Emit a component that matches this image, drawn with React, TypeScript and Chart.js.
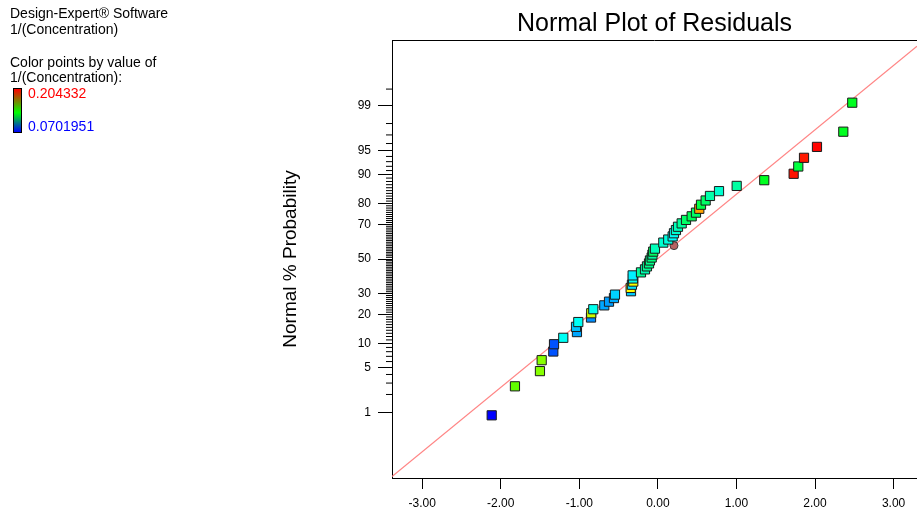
import React, { useEffect, useRef } from "react";
import { Chart, registerables } from "chart.js";

Chart.register(...registerables);

// ---------- data ----------
// Residuals of the square points, in rank order (bottom to top)
const residuals = [
  -2.115, -1.819, -1.501, -1.479, -1.331, -1.322, -1.204, -1.03, -1.042, -1.013,
  -0.851, -0.848, -0.822, -0.682, -0.622, -0.559, -0.546, -0.342, -0.346, -0.33,
  -0.313, -0.317, -0.321, -0.215, -0.164, -0.139, -0.113, -0.101, -0.079, -0.069,
  -0.059, -0.037, 0.069, 0.132, 0.188, 0.205, 0.23, 0.256, 0.303, 0.358,
  0.43, 0.485, 0.527, 0.549, 0.608, 0.663, 0.778, 1.003, 1.354, 1.728,
  1.787, 1.86, 2.025, 2.36, 2.474,
];
// Normal % probability of each square point
const probabilities = [
  0.89, 2.68, 4.46, 6.25, 8.04, 9.82, 11.61, 13.39, 15.18, 16.96,
  18.75, 20.54, 22.32, 24.11, 25.89, 27.68, 29.46, 31.25, 33.04, 34.82,
  36.61, 38.39, 40.18, 41.96, 43.75, 45.54, 47.32, 49.11, 50.89, 52.68,
  54.46, 56.25, 59.82, 61.61, 63.39, 65.18, 66.96, 68.75, 70.54, 72.32,
  74.11, 75.89, 77.68, 79.46, 81.25, 83.04, 84.82, 86.61, 88.39, 90.18,
  91.96, 93.75, 95.54, 97.32, 99.11,
];
// 1/(Concentration) value of each square point (drives its colour)
const responseValues = [
  0.0702, 0.15, 0.155, 0.155, 0.081, 0.081, 0.105, 0.092, 0.096, 0.105,
  0.089, 0.164, 0.106, 0.092, 0.091, 0.093, 0.098, 0.097, 0.171, 0.1,
  0.17, 0.106, 0.102, 0.117, 0.114, 0.118, 0.119, 0.119, 0.121, 0.116,
  0.124, 0.113, 0.11, 0.108, 0.104, 0.105, 0.11, 0.113, 0.117, 0.124,
  0.126, 0.124, 0.183, 0.128, 0.124, 0.115, 0.11, 0.116, 0.133, 0.202,
  0.129, 0.201, 0.204, 0.133, 0.133,
];
// Circle-marked run
const flaggedResiduals = [0.205];
const flaggedProbabilities = [58.04];
// Reference line endpoints
const fitLineResiduals = [-3.384, 3.298];
const fitLineProbabilities = [0.0487, 99.937];

// Axes
const xTickValues = [-3, -2, -1, 0, 1, 2, 3];
const yMajorProbs = [1, 5, 10, 20, 30, 50, 70, 80, 90, 95, 99];
const yMajorLabels = ["1", "5", "10", "20", "30", "50", "70", "80", "90", "95", "99"];
const yMinorProbs = [
  2, 3, 4, 6, 7, 8, 9, 11, 12, 13, 14, 15, 16, 17, 18, 19, 21, 22, 23, 24, 25, 26, 27, 28, 29,
  31, 32, 33, 34, 35, 36, 37, 38, 39, 40, 41, 42, 43, 44, 45, 46, 47, 48, 49, 51, 52, 53, 54,
  55, 56, 57, 58, 59, 60, 61, 62, 63, 64, 65, 66, 67, 68, 69, 71, 72, 73, 74, 75, 76, 77, 78,
  79, 81, 82, 83, 84, 85, 86, 87, 88, 89, 91, 92, 93, 94, 96, 97, 98, 99.5,
];
const X_MIN = -3.384;
const X_MAX = 3.298;
const Z_MIN = -3.32;
const Z_MAX = 3.32;

const COLOR_MAX = 0.204332;
const COLOR_MIN = 0.0701951;
const TITLE = "Normal Plot of Residuals";
const Y_TITLE = "Normal % Probability";
const FONT = 'Arial, "Liberation Sans", sans-serif';

// inverse normal CDF (Acklam)
function probit(p: number): number {
  const a = [-3.969683028665376e1, 2.209460984245205e2, -2.759285104469687e2, 1.38357751867269e2, -3.066479806614716e1, 2.506628277459239];
  const b = [-5.447609879822406e1, 1.615858368580409e2, -1.556989798598866e2, 6.680131188771972e1, -1.328068155288572e1];
  const c = [-7.784894002430293e-3, -3.223964580411365e-1, -2.400758277161838, -2.549732539343734, 4.374664141464968, 2.938163982698783];
  const d = [7.784695709041462e-3, 3.224671290700398e-1, 2.445134137142996, 3.754408661907416];
  const pl = 0.02425;
  if (p < pl) {
    const q = Math.sqrt(-2 * Math.log(p));
    return (((((c[0] * q + c[1]) * q + c[2]) * q + c[3]) * q + c[4]) * q + c[5]) / ((((d[0] * q + d[1]) * q + d[2]) * q + d[3]) * q + 1);
  }
  if (p > 1 - pl) {
    const q = Math.sqrt(-2 * Math.log(1 - p));
    return -(((((c[0] * q + c[1]) * q + c[2]) * q + c[3]) * q + c[4]) * q + c[5]) / ((((d[0] * q + d[1]) * q + d[2]) * q + d[3]) * q + 1);
  }
  const q = p - 0.5;
  const r = q * q;
  return ((((((a[0] * r + a[1]) * r + a[2]) * r + a[3]) * r + a[4]) * r + a[5]) * q) / (((((b[0] * r + b[1]) * r + b[2]) * r + b[3]) * r + b[4]) * r + 1);
}

function colorFor(v: number): string {
  const t = Math.min(1, Math.max(0, (v - COLOR_MIN) / (COLOR_MAX - COLOR_MIN)));
  const stops = [
    [0, 0, 255],
    [0, 255, 255],
    [0, 255, 0],
    [255, 255, 0],
    [255, 0, 0],
  ];
  const s = t * 4;
  const i = Math.min(3, Math.floor(s));
  const f = s - i;
  const A = stops[i];
  const B = stops[i + 1];
  const c = A.map((av, k) => Math.round(av + (B[k] - av) * f));
  return `rgb(${c[0]},${c[1]},${c[2]})`;
}

const decorPlugin = {
  id: "decor",
  afterDraw(chart: any) {
    const { ctx, chartArea, scales } = chart;
    ctx.save();
    ctx.strokeStyle = "#000";
    ctx.lineWidth = 1;
    ctx.beginPath();
    ctx.moveTo(chartArea.left, Math.round(chartArea.top) + 0.5);
    ctx.lineTo(chartArea.right, Math.round(chartArea.top) + 0.5);
    ctx.stroke();
    const ys = scales.y;
    ctx.beginPath();
    for (const p of yMinorProbs) {
      const y = ys.getPixelForValue(probit(p / 100));
      ctx.moveTo(chartArea.left - 6, y);
      ctx.lineTo(chartArea.left, y);
    }
    ctx.stroke();
    ctx.fillStyle = "#000";
    ctx.textAlign = "center";
    ctx.textBaseline = "middle";
    ctx.font = `25px ${FONT}`;
    ctx.fillText(TITLE, (chartArea.left + chartArea.right) / 2, 24);
    ctx.translate(chartArea.left - 101, (chartArea.top + chartArea.bottom) / 2);
    ctx.rotate(-Math.PI / 2);
    ctx.font = `19px ${FONT}`;
    ctx.fillText(Y_TITLE, 0, 0);
    ctx.restore();
  },
};

export default function App() {
  const ref = useRef<HTMLCanvasElement>(null);
  useEffect(() => {
    const squares = residuals.map((x, i) => ({ x, y: probit(probabilities[i] / 100) }));
    const circles = flaggedResiduals.map((x, i) => ({ x, y: probit(flaggedProbabilities[i] / 100) }));
    const fit = fitLineResiduals.map((x, i) => ({ x, y: probit(fitLineProbabilities[i] / 100) }));
    const chart = new Chart(ref.current as HTMLCanvasElement, {
      type: "scatter",
      data: {
        datasets: [
          {
            data: squares,
            pointStyle: "rect",
            pointRadius: 6.5,
            backgroundColor: responseValues.map(colorFor),
            borderColor: "#1a1a1a",
            borderWidth: 1,
          },
          {
            data: circles,
            pointStyle: "circle",
            pointRadius: 4,
            backgroundColor: "#b86262",
            borderColor: "#3a3a3a",
            borderWidth: 1,
          },
          {
            data: fit,
            showLine: true,
            pointRadius: 0,
            borderColor: "#ff8585",
            borderWidth: 1.2,
          },
        ],
      } as any,
      options: {
        responsive: false,
        animation: false,
        events: [],
        layout: { autoPadding: false, padding: { left: 300, top: 40, right: 0, bottom: 0 } },
        plugins: { legend: { display: false }, tooltip: { enabled: false }, title: { display: false } },
        scales: {
          x: {
            type: "linear",
            min: X_MIN,
            max: X_MAX,
            afterBuildTicks: (s: any) => {
              s.ticks = xTickValues.map((v) => ({ value: v }));
            },
            afterFit: (s: any) => {
              s.height = 33;
              s.paddingLeft = 0;
              s.paddingRight = 0;
            },
            grid: { drawOnChartArea: false, drawTicks: true, tickLength: 11, color: "#000" },
            border: { display: true, color: "#000" },
            ticks: {
              callback: (v: any) => Number(v).toFixed(2),
              font: { family: FONT, size: 12 },
              color: "#000",
              padding: 7,
              maxRotation: 0,
              autoSkip: false,
            },
          },
          y: {
            type: "linear",
            min: Z_MIN,
            max: Z_MAX,
            afterBuildTicks: (s: any) => {
              s.ticks = yMajorProbs.map((p) => ({ value: probit(p / 100) }));
            },
            afterFit: (s: any) => {
              s.width = 92;
              s.paddingTop = 0;
              s.paddingBottom = 0;
            },
            grid: { drawOnChartArea: false, drawTicks: true, tickLength: 14, color: "#000" },
            border: { display: true, color: "#000" },
            ticks: {
              callback: (_v: any, i: number) => yMajorLabels[i],
              font: { family: FONT, size: 12 },
              color: "#000",
              padding: 7,
              autoSkip: false,
            },
          },
        },
      } as any,
      plugins: [decorPlugin],
    });
    return () => chart.destroy();
  }, []);

  const line = (top: number, text: string, extra: any = {}) => (
    <div style={{ position: "absolute", left: 10, top, lineHeight: "16px", fontSize: 14, whiteSpace: "nowrap", color: "#000", ...extra }}>
      {text}
    </div>
  );

  return (
    <div style={{ position: "absolute", left: 0, top: 0, width: 917, height: 511, background: "#fff", fontFamily: FONT, overflow: "hidden" }}>
      <canvas ref={ref} width={917} height={511} style={{ position: "absolute", left: 0, top: 0, width: 917, height: 511 }} />
      {line(4.7, "Design-Expert® Software")}
      {line(21.3, "1/(Concentration)")}
      {line(53.7, "Color points by value of")}
      {line(69.3, "1/(Concentration):")}
      <div
        style={{
          position: "absolute",
          left: 13,
          top: 88,
          width: 7,
          height: 43,
          border: "1px solid #000",
          background: "linear-gradient(to bottom, #ff0000, #00ff00 55%, #0000ff)",
        }}
      />
      {line(85.3, String(COLOR_MAX), { left: 28, color: "#ff0000" })}
      {line(118, String(COLOR_MIN), { left: 28, color: "#0000ff" })}
    </div>
  );
}
